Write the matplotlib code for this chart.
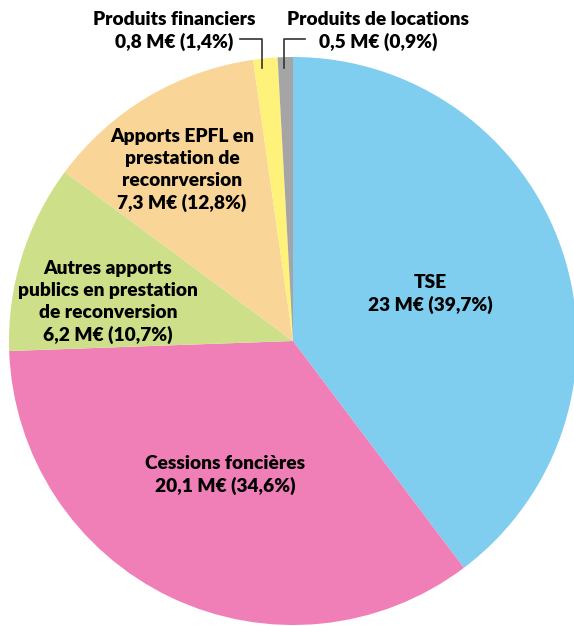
import matplotlib
matplotlib.use("Agg")
import matplotlib.pyplot as plt
from matplotlib.lines import Line2D

# Produits 2023 (M€)
labels = ["TSE", "Cessions foncières",
          "Autres apports\npublics en prestation\nde reconversion",
          "Apports EPFL en\nprestation de\nreconrversion",
          "Produits financiers", "Produits de locations"]
values = [23, 20.1, 6.2, 7.3, 0.8, 0.5]
value_txt = ["23", "20,1", "6,2", "7,3", "0,8", "0,5"]
pct_txt = ["39,7", "34,6", "10,7", "12,8", "1,4", "0,9"]
colors = ["#7FCDEF", "#F07FB8", "#CEDF8A", "#FAD598", "#FFF27A", "#A5A5A5"]

plt.rcParams['font.family'] = ['Lato', 'DejaVu Sans']

W, H = 574, 626
fig = plt.figure(figsize=(W / 100, H / 100), dpi=100)
cx, cy, r = 293, 341, 284
ax = fig.add_axes([(cx - r) / W, (H - cy - r) / H, 2 * r / W, 2 * r / H])
ax.pie(values, colors=colors, startangle=90, counterclock=False, radius=1,
       wedgeprops=dict(linewidth=0))
ax.set_xlim(-1, 1)
ax.set_ylim(-1, 1)
ax.axis("off")

# label centres in pixels (x, y from top)
pos = [(430, 294), (225, 475), (108, 302), (182, 170), (174, 31), (378, 31)]
for i in range(len(values)):
    txt = labels[i] + "\n" + value_txt[i] + " M€ (" + pct_txt[i] + "%)"
    fig.text(pos[i][0] / W, 1 - pos[i][1] / H, txt, ha="center", va="center",
             fontsize=13.8, fontweight="heavy", linespacing=1.33)

# leader lines
def leader(xs, ys):
    fig.add_artist(Line2D([x / W for x in xs], [1 - y / H for y in ys],
                          color="#333333", lw=1.2))

leader([240, 262, 262], [39, 39, 68])
leader([305, 284, 284], [39, 39, 68])

fig.savefig("out.png", dpi=100)
